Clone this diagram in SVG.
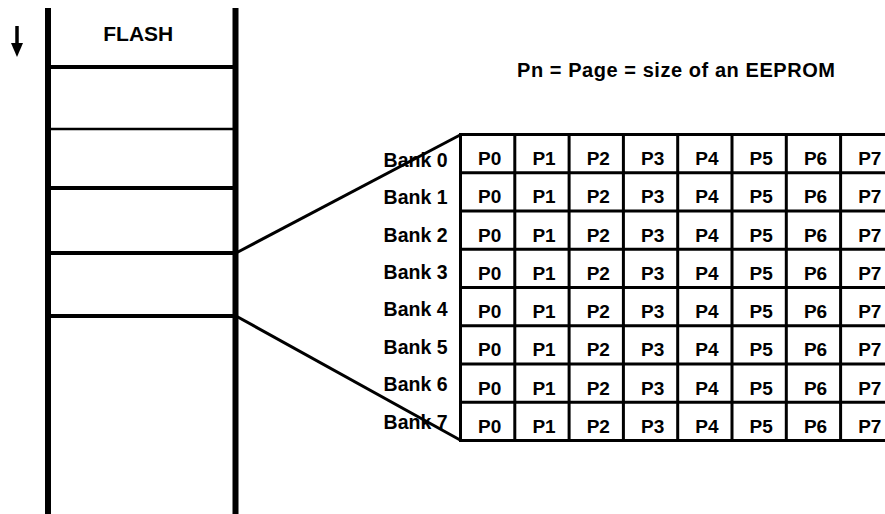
<svg xmlns="http://www.w3.org/2000/svg" width="885" height="514" viewBox="0 0 885 514">
<style>
text{font-family:"Liberation Sans",Arial,sans-serif;font-weight:bold;fill:#000}
.c{font-size:19px;text-anchor:middle}
.b{font-size:19.5px;text-anchor:end}
.t{font-size:20px}
.ln{stroke:#000;fill:none}
</style>
<rect width="885" height="514" fill="#fff"/>
<g id="direction-arrow">
<line x1="17" y1="26" x2="17" y2="46" stroke="#000" stroke-width="3.5"/>
<polygon points="11,43 23,43 17,57" fill="#000"/>
</g>
<g id="flash">
<line class="ln" x1="48" y1="8" x2="48" y2="514" stroke-width="6"/>
<line class="ln" x1="235.5" y1="8" x2="235.5" y2="514" stroke-width="6"/>
<line class="ln" x1="48" y1="67" x2="235.5" y2="67" stroke-width="4"/>
<line class="ln" x1="48" y1="129" x2="235.5" y2="129" stroke-width="2.5"/>
<line class="ln" x1="48" y1="188" x2="235.5" y2="188" stroke-width="4"/>
<line class="ln" x1="48" y1="253" x2="235.5" y2="253" stroke-width="4"/>
<line class="ln" x1="48" y1="316" x2="235.5" y2="316" stroke-width="4"/>
<text class="t" x="103.3" y="41" textLength="70" lengthAdjust="spacingAndGlyphs">FLASH</text>
</g>
<g id="title">
<text class="t" x="517" y="76.5" textLength="318" lengthAdjust="spacing">Pn = Page = size of an EEPROM</text>
</g>
<g id="connectors">
<line class="ln" x1="236" y1="253" x2="461" y2="134.5" stroke-width="3"/>
<line class="ln" x1="236" y1="316" x2="461" y2="440.5" stroke-width="3"/>
</g>
<g id="grid" class="ln" stroke-width="3">
<rect x="460.5" y="134.5" width="434.4" height="306"/>
<path d="M460.5 172.75H895M460.5 211H895M460.5 249.25H895M460.5 287.5H895M460.5 325.75H895M460.5 364H895M460.5 402.25H895M514.8 134.5V440.5M569.1 134.5V440.5M623.4 134.5V440.5M677.7 134.5V440.5M732 134.5V440.5M786.3 134.5V440.5M840.6 134.5V440.5"/>
</g>
<g id="bank0">
<text class="b" x="447.5" y="166.7">Bank 0</text>
<text class="c" x="489.7" y="165">P0</text><text class="c" x="544" y="165">P1</text><text class="c" x="598.3" y="165">P2</text><text class="c" x="652.6" y="165">P3</text><text class="c" x="706.9" y="165">P4</text><text class="c" x="761.2" y="165">P5</text><text class="c" x="815.5" y="165">P6</text><text class="c" x="869.8" y="165">P7</text>
</g>
<g id="bank1">
<text class="b" x="447.5" y="204.1">Bank 1</text>
<text class="c" x="489.7" y="203.4">P0</text><text class="c" x="544" y="203.4">P1</text><text class="c" x="598.3" y="203.4">P2</text><text class="c" x="652.6" y="203.4">P3</text><text class="c" x="706.9" y="203.4">P4</text><text class="c" x="761.2" y="203.4">P5</text><text class="c" x="815.5" y="203.4">P6</text><text class="c" x="869.8" y="203.4">P7</text>
</g>
<g id="bank2">
<text class="b" x="447.5" y="241.5">Bank 2</text>
<text class="c" x="489.7" y="241.6">P0</text><text class="c" x="544" y="241.6">P1</text><text class="c" x="598.3" y="241.6">P2</text><text class="c" x="652.6" y="241.6">P3</text><text class="c" x="706.9" y="241.6">P4</text><text class="c" x="761.2" y="241.6">P5</text><text class="c" x="815.5" y="241.6">P6</text><text class="c" x="869.8" y="241.6">P7</text>
</g>
<g id="bank3">
<text class="b" x="447.5" y="278.9">Bank 3</text>
<text class="c" x="489.7" y="279.9">P0</text><text class="c" x="544" y="279.9">P1</text><text class="c" x="598.3" y="279.9">P2</text><text class="c" x="652.6" y="279.9">P3</text><text class="c" x="706.9" y="279.9">P4</text><text class="c" x="761.2" y="279.9">P5</text><text class="c" x="815.5" y="279.9">P6</text><text class="c" x="869.8" y="279.9">P7</text>
</g>
<g id="bank4">
<text class="b" x="447.5" y="316.3">Bank 4</text>
<text class="c" x="489.7" y="318.1">P0</text><text class="c" x="544" y="318.1">P1</text><text class="c" x="598.3" y="318.1">P2</text><text class="c" x="652.6" y="318.1">P3</text><text class="c" x="706.9" y="318.1">P4</text><text class="c" x="761.2" y="318.1">P5</text><text class="c" x="815.5" y="318.1">P6</text><text class="c" x="869.8" y="318.1">P7</text>
</g>
<g id="bank5">
<text class="b" x="447.5" y="353.7">Bank 5</text>
<text class="c" x="489.7" y="356.4">P0</text><text class="c" x="544" y="356.4">P1</text><text class="c" x="598.3" y="356.4">P2</text><text class="c" x="652.6" y="356.4">P3</text><text class="c" x="706.9" y="356.4">P4</text><text class="c" x="761.2" y="356.4">P5</text><text class="c" x="815.5" y="356.4">P6</text><text class="c" x="869.8" y="356.4">P7</text>
</g>
<g id="bank6">
<text class="b" x="447.5" y="391.1">Bank 6</text>
<text class="c" x="489.7" y="394.6">P0</text><text class="c" x="544" y="394.6">P1</text><text class="c" x="598.3" y="394.6">P2</text><text class="c" x="652.6" y="394.6">P3</text><text class="c" x="706.9" y="394.6">P4</text><text class="c" x="761.2" y="394.6">P5</text><text class="c" x="815.5" y="394.6">P6</text><text class="c" x="869.8" y="394.6">P7</text>
</g>
<g id="bank7">
<text class="b" x="447.5" y="428.5">Bank 7</text>
<text class="c" x="489.7" y="432.9">P0</text><text class="c" x="544" y="432.9">P1</text><text class="c" x="598.3" y="432.9">P2</text><text class="c" x="652.6" y="432.9">P3</text><text class="c" x="706.9" y="432.9">P4</text><text class="c" x="761.2" y="432.9">P5</text><text class="c" x="815.5" y="432.9">P6</text><text class="c" x="869.8" y="432.9">P7</text>
</g>
</svg>
